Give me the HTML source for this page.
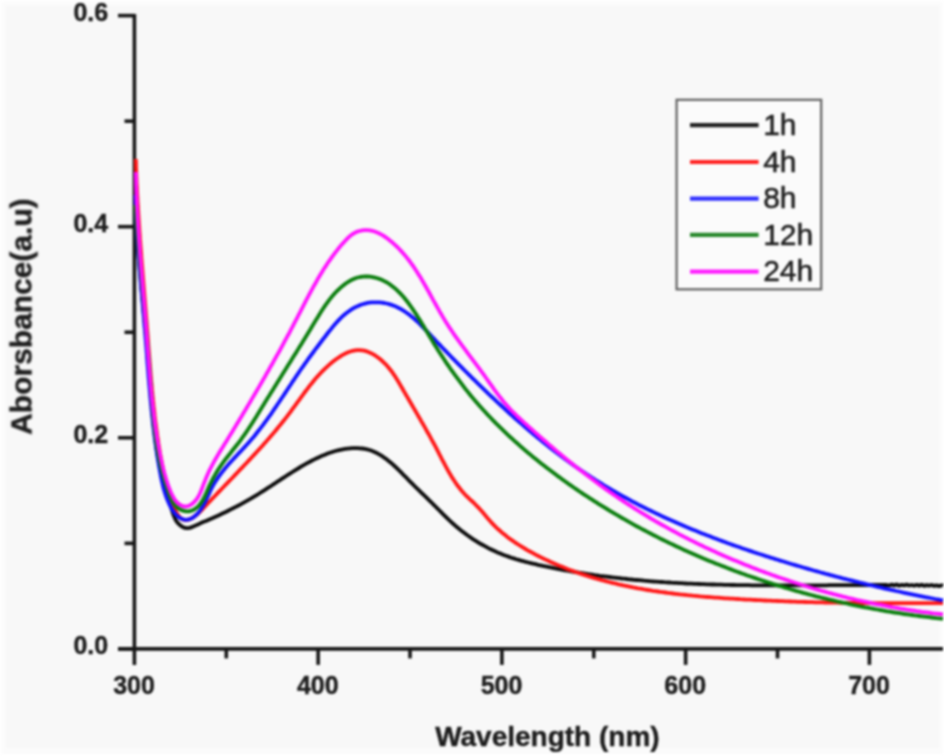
<!DOCTYPE html>
<html><head><meta charset="utf-8"><title>UV-Vis Absorbance</title>
<style>
html,body{margin:0;padding:0;background:#fff;}
body{width:944px;height:756px;overflow:hidden;font-family:"Liberation Sans",sans-serif;}
svg{display:block;}
.tk{font-family:"Liberation Sans",sans-serif;font-weight:bold;font-size:25px;fill:#1c1c1c;stroke:#1c1c1c;stroke-width:0.4;}
.ax{font-family:"Liberation Sans",sans-serif;font-weight:bold;font-size:28px;fill:#1c1c1c;stroke:#1c1c1c;stroke-width:0.4;}
.ay{font-family:"Liberation Sans",sans-serif;font-weight:bold;font-size:30px;fill:#1c1c1c;stroke:#1c1c1c;stroke-width:0.4;}
.lg{font-family:"Liberation Sans",sans-serif;font-size:30px;fill:#1e1e1e;stroke:#1e1e1e;stroke-width:0.5;}
</style></head><body>
<svg width="944" height="756" viewBox="0 0 944 756">
<defs><filter id="b" x="0" y="0" width="944" height="756" filterUnits="userSpaceOnUse" color-interpolation-filters="sRGB"><feGaussianBlur stdDeviation="0.8"/></filter><filter id="b2" x="0" y="0" width="944" height="756" filterUnits="userSpaceOnUse" color-interpolation-filters="sRGB"><feGaussianBlur stdDeviation="1.2"/></filter></defs>
<rect x="0" y="0" width="944" height="756" fill="#ffffff"/>
<g filter="url(#b2)"><rect x="1.5" y="1.5" width="941" height="752.5" fill="#fbfbfb"/><rect x="6.5" y="6" width="932" height="741.5" fill="#f8f8f8"/></g>
<g filter="url(#b)">
<g stroke="#161616" stroke-width="3.6" fill="none" stroke-linecap="butt">
<line x1="134.40" y1="14" x2="134.40" y2="664.90"/>
<line x1="118" y1="648.90" x2="943" y2="648.90"/>
<line x1="118" y1="648.90" x2="134.40" y2="648.90"/>
<line x1="124.5" y1="543.35" x2="134.40" y2="543.35"/>
<line x1="118" y1="437.80" x2="134.40" y2="437.80"/>
<line x1="124.5" y1="332.25" x2="134.40" y2="332.25"/>
<line x1="118" y1="226.70" x2="134.40" y2="226.70"/>
<line x1="124.5" y1="121.15" x2="134.40" y2="121.15"/>
<line x1="118" y1="15.60" x2="134.40" y2="15.60"/>
<line x1="226.28" y1="648.90" x2="226.28" y2="658.40"/>
<line x1="318.15" y1="648.90" x2="318.15" y2="664.90"/>
<line x1="410.02" y1="648.90" x2="410.02" y2="658.40"/>
<line x1="501.90" y1="648.90" x2="501.90" y2="664.90"/>
<line x1="593.77" y1="648.90" x2="593.77" y2="658.40"/>
<line x1="685.65" y1="648.90" x2="685.65" y2="664.90"/>
<line x1="777.52" y1="648.90" x2="777.52" y2="658.40"/>
<line x1="869.40" y1="648.90" x2="869.40" y2="664.90"/>
</g>
<path d="M136.2 226.0 L136.4 228.5 L136.6 231.0 L136.8 233.5 L137.0 236.0 L137.2 238.5 L137.4 241.0 L137.6 243.5 L137.8 246.0 L138.0 248.5 L138.2 251.0 L138.4 253.5 L138.6 256.0 L138.8 258.5 L139.0 261.0 L139.2 263.4 L139.5 265.9 L139.7 268.4 L139.9 270.9 L140.1 273.4 L140.4 275.9 L140.6 278.4 L140.8 280.9 L141.0 283.3 L141.3 285.8 L141.5 288.3 L141.7 290.8 L142.0 293.3 L142.2 295.8 L142.4 298.2 L142.7 300.7 L142.9 303.2 L143.1 305.7 L143.4 308.2 L143.6 310.7 L143.8 313.1 L144.1 315.6 L144.3 318.1 L144.5 320.6 L144.8 323.1 L145.0 325.6 L145.2 328.0 L145.5 330.5 L145.7 333.0 L145.9 335.5 L146.2 338.0 L146.4 340.5 L146.6 342.9 L146.8 345.4 L147.1 347.9 L147.3 350.4 L147.5 352.9 L147.7 355.4 L147.9 357.9 L148.2 360.4 L148.4 362.9 L148.6 365.4 L148.8 367.8 L149.0 370.3 L149.2 372.8 L149.4 375.3 L149.6 377.8 L149.8 380.3 L150.0 382.8 L150.2 385.3 L150.4 387.8 L150.6 390.3 L150.8 392.8 L151.0 395.3 L151.2 397.8 L151.4 400.3 L151.6 402.8 L151.8 405.4 L152.0 407.9 L152.2 410.4 L152.4 412.9 L152.7 415.3 L152.9 417.8 L153.1 420.3 L153.4 422.8 L153.6 425.3 L153.9 427.8 L154.2 430.3 L154.5 432.8 L154.8 435.3 L155.1 437.8 L155.4 440.2 L155.7 442.7 L156.1 445.2 L156.4 447.6 L156.8 450.1 L157.2 452.6 L157.6 455.0 L158.0 457.5 L158.4 459.9 L158.9 462.4 L159.4 464.8 L159.8 467.3 L160.4 469.7 L160.9 472.1 L161.4 474.5 L162.0 477.0 L162.6 479.4 L163.2 481.8 L163.8 484.2 L164.5 486.6 L165.2 488.9 L165.9 491.3 L166.6 493.7 L167.4 496.1 L168.1 498.5 L168.9 500.8 L169.7 503.2 L170.5 505.6 L171.2 508.0 L172.0 510.4 L172.8 512.9 L173.6 515.3 L174.6 517.6 L175.7 519.9 L177.0 522.0 L178.7 523.9 L180.6 525.6 L182.7 527.0 L184.9 527.9 L187.3 528.2 L189.6 527.9 L192.0 527.1 L194.4 526.1 L196.8 524.9 L199.1 523.9 L201.4 522.8 L203.7 521.8 L206.0 520.9 L208.2 519.9 L210.5 518.9 L212.8 517.9 L215.0 516.9 L217.3 515.9 L219.5 514.9 L221.8 513.8 L224.1 512.7 L226.3 511.7 L228.6 510.5 L230.8 509.4 L233.0 508.3 L235.3 507.1 L237.5 506.0 L239.7 504.8 L241.9 503.6 L244.1 502.4 L246.3 501.2 L248.5 499.9 L250.7 498.7 L252.8 497.4 L254.9 496.1 L257.1 494.8 L259.2 493.5 L261.3 492.2 L263.4 490.9 L265.4 489.6 L267.5 488.2 L269.6 486.9 L271.7 485.5 L273.7 484.1 L275.8 482.8 L277.8 481.4 L279.9 480.1 L282.0 478.7 L284.1 477.3 L286.1 476.0 L288.2 474.6 L290.3 473.3 L292.4 472.0 L294.6 470.6 L296.7 469.3 L298.9 468.0 L301.0 466.7 L303.2 465.4 L305.4 464.2 L307.6 462.9 L309.9 461.7 L312.1 460.5 L314.4 459.4 L316.7 458.3 L319.0 457.2 L321.3 456.1 L323.6 455.2 L326.0 454.2 L328.3 453.3 L330.7 452.5 L333.1 451.7 L335.4 451.0 L337.9 450.4 L340.3 449.8 L342.7 449.3 L345.1 448.9 L347.6 448.6 L350.0 448.3 L352.5 448.2 L355.0 448.1 L357.5 448.1 L359.9 448.3 L362.3 448.5 L364.8 448.9 L367.1 449.4 L369.5 450.0 L371.7 450.8 L374.0 451.7 L376.2 452.7 L378.3 453.9 L380.5 455.1 L382.6 456.4 L384.6 457.9 L386.6 459.3 L388.6 460.9 L390.6 462.5 L392.5 464.2 L394.5 466.0 L396.3 467.7 L398.2 469.5 L400.1 471.4 L401.9 473.2 L403.7 475.1 L405.6 476.9 L407.4 478.8 L409.1 480.6 L410.9 482.4 L412.7 484.2 L414.5 486.0 L416.2 487.7 L418.0 489.4 L419.8 491.1 L421.5 492.8 L423.3 494.5 L425.0 496.2 L426.8 497.9 L428.5 499.6 L430.3 501.3 L432.0 503.0 L433.8 504.8 L435.5 506.5 L437.3 508.3 L439.0 510.0 L440.8 511.8 L442.5 513.6 L444.3 515.3 L446.1 517.1 L447.9 518.9 L449.7 520.6 L451.6 522.3 L453.4 524.0 L455.3 525.7 L457.2 527.3 L459.2 528.9 L461.1 530.5 L463.1 532.0 L465.1 533.5 L467.1 535.0 L469.2 536.5 L471.2 537.9 L473.3 539.3 L475.4 540.6 L477.5 542.0 L479.7 543.3 L481.8 544.5 L484.0 545.7 L486.2 546.9 L488.4 548.1 L490.6 549.2 L492.9 550.3 L495.1 551.3 L497.4 552.4 L499.7 553.3 L502.0 554.3 L504.4 555.2 L506.7 556.0 L509.1 556.9 L511.4 557.7 L513.8 558.4 L516.2 559.2 L518.6 559.9 L521.0 560.6 L523.4 561.2 L525.8 561.9 L528.3 562.5 L530.7 563.1 L533.1 563.7 L535.6 564.2 L538.0 564.8 L540.5 565.3 L542.9 565.9 L545.4 566.4 L547.8 566.9 L550.3 567.4 L552.7 567.9 L555.2 568.4 L557.6 568.9 L560.1 569.4 L562.6 569.8 L565.0 570.3 L567.5 570.7 L569.9 571.2 L572.4 571.6 L574.9 572.0 L577.3 572.4 L579.8 572.8 L582.3 573.2 L584.7 573.6 L587.2 574.0 L589.7 574.3 L592.1 574.7 L594.6 575.1 L597.1 575.4 L599.5 575.8 L602.0 576.1 L604.5 576.4 L607.0 576.7 L609.4 577.0 L611.9 577.3 L614.4 577.6 L616.9 577.9 L619.3 578.2 L621.8 578.5 L624.3 578.7 L626.8 579.0 L629.3 579.3 L631.7 579.5 L634.2 579.8 L636.7 580.0 L639.2 580.2 L641.7 580.4 L644.2 580.7 L646.6 580.9 L649.1 581.1 L651.6 581.3 L654.1 581.5 L656.6 581.6 L659.1 581.8 L661.6 582.0 L664.1 582.2 L666.6 582.3 L669.1 582.5 L671.5 582.7 L674.0 582.8 L676.5 582.9 L679.0 583.1 L681.5 583.2 L684.0 583.3 L686.5 583.5 L689.0 583.6 L691.5 583.7 L694.0 583.8 L696.5 583.9 L699.0 584.0 L701.5 584.1 L704.0 584.2 L706.5 584.3 L709.0 584.4 L711.5 584.5 L714.0 584.5 L716.5 584.6 L719.0 584.7 L721.5 584.7 L724.0 584.8 L726.5 584.9 L729.0 584.9 L731.5 585.0 L734.0 585.0 L736.5 585.1 L739.0 585.1 L741.5 585.1 L744.0 585.2 L746.5 585.2 L749.0 585.2 L751.5 585.3 L754.0 585.3 L756.5 585.3 L759.0 585.3 L761.5 585.4 L764.0 585.4 L766.5 585.4 L769.0 585.4 L771.5 585.4 L774.1 585.4 L776.6 585.4 L779.1 585.4 L781.6 585.4 L784.1 585.4 L786.6 585.4 L789.1 585.4 L791.6 585.4 L794.1 585.4 L796.6 585.4 L799.1 585.4 L801.6 585.4 L804.1 585.4 L806.6 585.4 L809.1 585.4 L811.6 585.3 L814.1 585.3 L816.6 585.3 L819.2 585.3 L821.7 585.3 L824.2 585.3 L826.7 585.3 L829.2 585.2 L831.7 585.2 L834.2 585.2 L836.7 585.2 L839.2 585.2 L841.7 585.2 L844.2 585.2 L846.7 585.1 L849.2 585.1 L851.7 585.1 L854.2 585.1 L856.7 585.1 L859.2 585.1 L861.7 585.1 L864.2 585.1 L866.7 585.0 L869.2 585.0 L871.7 585.0 L874.2 585.0 L876.7 585.0 L879.2 585.0 L881.7 585.0 L884.2 585.0 L886.7 585.0 L889.2 585.5 L891.7 584.6 L894.2 585.4 L896.7 584.5 L899.2 585.7 L901.7 584.8 L904.2 585.3 L906.7 584.6 L909.2 585.5 L911.7 585.0 L914.2 585.7 L916.7 584.8 L919.2 585.6 L921.7 584.7 L924.1 585.9 L926.6 585.1 L929.1 585.6 L931.6 585.0 L934.1 585.9 L936.6 585.4 L939.1 586.1 L941.6 585.3 L943.0 586.0" fill="none" stroke="#0a0a0a" stroke-width="3.8" stroke-linejoin="round" stroke-linecap="butt"/>
<path d="M135.8 159.0 L135.9 161.5 L136.0 164.0 L136.0 166.5 L136.1 169.0 L136.2 171.6 L136.3 174.1 L136.4 176.6 L136.5 179.1 L136.6 181.6 L136.7 184.1 L136.9 186.6 L137.0 189.1 L137.1 191.6 L137.2 194.1 L137.4 196.6 L137.5 199.1 L137.6 201.6 L137.8 204.1 L137.9 206.5 L138.1 209.0 L138.2 211.5 L138.4 214.0 L138.5 216.5 L138.7 219.0 L138.8 221.5 L139.0 224.0 L139.2 226.5 L139.3 229.0 L139.5 231.4 L139.7 233.9 L139.9 236.4 L140.0 238.9 L140.2 241.4 L140.4 243.9 L140.6 246.4 L140.8 248.8 L141.0 251.3 L141.2 253.8 L141.3 256.3 L141.5 258.8 L141.7 261.3 L141.9 263.8 L142.1 266.2 L142.3 268.7 L142.5 271.2 L142.7 273.7 L142.9 276.2 L143.1 278.7 L143.3 281.1 L143.5 283.6 L143.7 286.1 L143.9 288.6 L144.1 291.1 L144.3 293.6 L144.5 296.1 L144.7 298.6 L144.9 301.0 L145.1 303.5 L145.3 306.0 L145.5 308.5 L145.7 311.0 L145.9 313.5 L146.1 316.0 L146.3 318.5 L146.5 321.0 L146.7 323.5 L146.9 326.0 L147.1 328.5 L147.3 331.0 L147.5 333.5 L147.7 336.0 L147.9 338.5 L148.1 341.0 L148.2 343.5 L148.4 346.0 L148.6 348.5 L148.8 351.0 L149.0 353.5 L149.2 356.0 L149.4 358.5 L149.6 361.0 L149.8 363.5 L150.0 366.0 L150.2 368.5 L150.4 371.0 L150.6 373.5 L150.8 376.0 L151.0 378.5 L151.2 381.0 L151.5 383.5 L151.7 386.0 L151.9 388.5 L152.1 391.0 L152.4 393.5 L152.6 396.0 L152.9 398.5 L153.1 401.0 L153.4 403.5 L153.6 406.0 L153.9 408.5 L154.2 411.0 L154.5 413.5 L154.7 416.0 L155.0 418.5 L155.3 420.9 L155.6 423.4 L156.0 425.9 L156.3 428.4 L156.6 430.9 L157.0 433.3 L157.3 435.8 L157.7 438.3 L158.1 440.7 L158.4 443.2 L158.8 445.6 L159.2 448.1 L159.6 450.6 L160.0 453.0 L160.5 455.5 L160.9 457.9 L161.4 460.3 L161.8 462.8 L162.3 465.2 L162.8 467.7 L163.3 470.1 L163.8 472.5 L164.3 474.9 L164.9 477.3 L165.4 479.8 L166.0 482.2 L166.6 484.6 L167.2 487.0 L167.8 489.4 L168.5 491.8 L169.2 494.2 L170.0 496.6 L170.8 498.9 L171.6 501.3 L172.6 503.7 L173.5 506.1 L174.5 508.5 L175.6 510.9 L176.8 513.2 L178.2 515.3 L179.7 517.2 L181.5 518.7 L183.6 519.7 L185.9 520.0 L188.3 519.7 L190.7 518.8 L192.9 517.5 L195.0 516.1 L197.0 514.5 L198.8 512.8 L200.6 511.1 L202.4 509.3 L204.1 507.5 L205.8 505.6 L207.5 503.8 L209.2 502.0 L210.9 500.2 L212.6 498.3 L214.4 496.5 L216.1 494.7 L217.8 492.9 L219.5 491.1 L221.3 489.3 L223.0 487.5 L224.7 485.7 L226.5 483.9 L228.2 482.1 L229.9 480.3 L231.7 478.5 L233.4 476.7 L235.1 474.9 L236.9 473.1 L238.6 471.2 L240.3 469.4 L242.1 467.6 L243.8 465.8 L245.5 464.0 L247.2 462.2 L248.9 460.4 L250.6 458.6 L252.3 456.7 L254.0 454.9 L255.7 453.1 L257.4 451.2 L259.1 449.4 L260.8 447.5 L262.5 445.7 L264.1 443.8 L265.8 442.0 L267.4 440.1 L269.1 438.2 L270.7 436.3 L272.3 434.5 L273.9 432.6 L275.5 430.7 L277.1 428.7 L278.7 426.8 L280.3 424.9 L281.8 423.0 L283.4 421.0 L284.9 419.1 L286.5 417.1 L288.0 415.1 L289.5 413.1 L291.0 411.2 L292.4 409.2 L293.9 407.1 L295.4 405.1 L296.8 403.1 L298.3 401.1 L299.8 399.1 L301.2 397.1 L302.7 395.1 L304.2 393.0 L305.7 391.0 L307.2 389.1 L308.7 387.1 L310.2 385.1 L311.8 383.2 L313.4 381.2 L315.0 379.3 L316.6 377.4 L318.3 375.6 L320.0 373.7 L321.7 371.9 L323.5 370.1 L325.3 368.3 L327.2 366.6 L329.1 364.9 L331.0 363.2 L333.0 361.6 L335.1 360.0 L337.1 358.5 L339.3 357.1 L341.4 355.7 L343.7 354.4 L345.9 353.3 L348.1 352.3 L350.4 351.5 L352.7 350.8 L355.0 350.4 L357.3 350.1 L359.7 350.1 L362.0 350.3 L364.3 350.7 L366.6 351.3 L368.8 352.2 L371.1 353.2 L373.3 354.4 L375.5 355.7 L377.6 357.2 L379.7 358.8 L381.7 360.5 L383.6 362.3 L385.5 364.1 L387.2 366.0 L388.9 368.0 L390.5 370.0 L392.1 372.0 L393.5 374.1 L394.9 376.1 L396.2 378.2 L397.5 380.3 L398.8 382.4 L400.0 384.6 L401.3 386.7 L402.5 388.8 L403.7 391.0 L405.0 393.1 L406.2 395.2 L407.5 397.4 L408.7 399.5 L410.0 401.7 L411.2 403.8 L412.5 406.0 L413.7 408.1 L415.0 410.3 L416.2 412.4 L417.5 414.6 L418.7 416.7 L420.0 418.9 L421.2 421.1 L422.5 423.3 L423.7 425.4 L425.0 427.6 L426.2 429.8 L427.4 432.0 L428.7 434.2 L429.9 436.4 L431.1 438.6 L432.3 440.8 L433.5 443.0 L434.7 445.2 L435.9 447.4 L437.0 449.6 L438.2 451.9 L439.3 454.1 L440.5 456.3 L441.6 458.6 L442.8 460.8 L444.0 463.0 L445.1 465.2 L446.3 467.4 L447.5 469.6 L448.7 471.8 L450.0 473.9 L451.2 476.0 L452.5 478.2 L453.9 480.2 L455.3 482.3 L456.7 484.3 L458.1 486.3 L459.7 488.3 L461.2 490.2 L462.8 492.1 L464.5 494.0 L466.3 495.8 L468.1 497.5 L469.9 499.3 L471.8 501.0 L473.6 502.7 L475.4 504.5 L477.2 506.3 L479.0 508.1 L480.6 510.0 L482.3 511.8 L483.9 513.7 L485.5 515.6 L487.0 517.5 L488.7 519.4 L490.3 521.3 L492.0 523.1 L493.7 524.9 L495.4 526.6 L497.2 528.3 L499.1 530.0 L500.9 531.6 L502.8 533.3 L504.8 534.8 L506.7 536.4 L508.7 537.9 L510.7 539.4 L512.8 540.8 L514.8 542.3 L516.9 543.7 L519.0 545.0 L521.2 546.4 L523.3 547.7 L525.5 549.0 L527.7 550.3 L529.9 551.5 L532.1 552.7 L534.3 553.9 L536.5 555.1 L538.8 556.3 L541.0 557.4 L543.3 558.5 L545.6 559.6 L547.8 560.6 L550.1 561.7 L552.4 562.7 L554.7 563.7 L557.0 564.7 L559.3 565.7 L561.6 566.6 L563.9 567.6 L566.2 568.5 L568.5 569.4 L570.9 570.3 L573.2 571.1 L575.6 572.0 L577.9 572.8 L580.3 573.6 L582.6 574.4 L585.0 575.1 L587.4 575.9 L589.7 576.6 L592.1 577.4 L594.5 578.1 L596.9 578.8 L599.3 579.4 L601.7 580.1 L604.1 580.7 L606.5 581.4 L608.9 582.0 L611.3 582.6 L613.7 583.2 L616.1 583.7 L618.5 584.3 L621.0 584.8 L623.4 585.4 L625.8 585.9 L628.3 586.4 L630.7 586.9 L633.2 587.4 L635.6 587.8 L638.1 588.3 L640.5 588.7 L643.0 589.2 L645.4 589.6 L647.9 590.0 L650.4 590.4 L652.8 590.8 L655.3 591.1 L657.8 591.5 L660.3 591.9 L662.7 592.2 L665.2 592.5 L667.7 592.9 L670.2 593.2 L672.7 593.5 L675.2 593.8 L677.7 594.1 L680.1 594.4 L682.6 594.6 L685.1 594.9 L687.6 595.2 L690.1 595.4 L692.6 595.7 L695.1 595.9 L697.6 596.1 L700.1 596.4 L702.6 596.6 L705.1 596.8 L707.6 597.0 L710.1 597.2 L712.6 597.4 L715.1 597.6 L717.7 597.7 L720.2 597.9 L722.7 598.1 L725.2 598.3 L727.7 598.4 L730.2 598.6 L732.7 598.7 L735.2 598.9 L737.7 599.0 L740.2 599.2 L742.7 599.3 L745.2 599.5 L747.7 599.6 L750.2 599.7 L752.7 599.9 L755.2 600.0 L757.7 600.1 L760.2 600.2 L762.7 600.4 L765.2 600.5 L767.7 600.6 L770.2 600.7 L772.7 600.8 L775.2 600.9 L777.7 601.0 L780.2 601.1 L782.7 601.2 L785.2 601.3 L787.6 601.4 L790.1 601.5 L792.6 601.6 L795.1 601.7 L797.6 601.8 L800.1 601.8 L802.6 601.9 L805.1 602.0 L807.6 602.1 L810.1 602.1 L812.6 602.2 L815.1 602.3 L817.6 602.3 L820.1 602.4 L822.6 602.4 L825.0 602.5 L827.5 602.6 L830.0 602.6 L832.5 602.7 L835.0 602.7 L837.5 602.7 L840.0 602.8 L842.5 602.8 L845.0 602.9 L847.5 602.9 L850.0 602.9 L852.5 603.0 L855.0 603.0 L857.4 603.0 L859.9 603.1 L862.4 603.1 L864.9 603.1 L867.4 603.1 L869.9 603.1 L872.4 603.2 L874.9 603.2 L877.4 603.2 L879.9 603.2 L882.4 603.2 L884.9 603.2 L887.4 603.2 L889.9 603.2 L892.4 603.2 L894.9 603.2 L897.4 603.2 L899.9 603.2 L902.4 603.2 L904.9 603.2 L907.4 603.2 L909.9 603.2 L912.4 603.2 L914.9 603.2 L917.4 603.2 L919.9 603.2 L922.4 603.2 L924.9 603.1 L927.4 603.1 L929.9 603.1 L932.5 603.1 L935.0 603.1 L937.5 603.0 L940.0 603.0 L942.5 603.0 L943.0 603.0" fill="none" stroke="#ff1414" stroke-width="3.8" stroke-linejoin="round" stroke-linecap="butt"/>
<path d="M135.6 195.0 L135.6 197.5 L135.7 200.0 L135.7 202.5 L135.8 205.0 L135.9 207.5 L135.9 210.0 L136.0 212.5 L136.1 215.0 L136.2 217.5 L136.3 220.0 L136.4 222.5 L136.6 225.0 L136.7 227.5 L136.8 230.0 L137.0 232.5 L137.1 235.0 L137.2 237.5 L137.4 240.0 L137.6 242.5 L137.7 245.0 L137.9 247.5 L138.1 250.0 L138.3 252.5 L138.4 254.9 L138.6 257.4 L138.8 259.9 L139.0 262.4 L139.2 264.9 L139.4 267.4 L139.6 269.9 L139.8 272.4 L140.0 274.8 L140.3 277.3 L140.5 279.8 L140.7 282.3 L140.9 284.8 L141.1 287.3 L141.3 289.8 L141.6 292.2 L141.8 294.7 L142.0 297.2 L142.2 299.7 L142.5 302.2 L142.7 304.7 L142.9 307.2 L143.1 309.7 L143.3 312.1 L143.6 314.6 L143.8 317.1 L144.0 319.6 L144.2 322.1 L144.4 324.6 L144.6 327.1 L144.9 329.6 L145.1 332.1 L145.3 334.6 L145.5 337.1 L145.7 339.6 L145.9 342.1 L146.1 344.6 L146.3 347.1 L146.5 349.6 L146.7 352.1 L146.9 354.6 L147.0 357.1 L147.2 359.6 L147.4 362.1 L147.6 364.6 L147.8 367.0 L148.0 369.5 L148.2 372.0 L148.4 374.5 L148.6 377.0 L148.8 379.5 L149.0 382.0 L149.2 384.5 L149.5 387.0 L149.7 389.5 L149.9 392.0 L150.1 394.5 L150.3 397.0 L150.6 399.5 L150.8 402.0 L151.0 404.5 L151.3 407.0 L151.5 409.5 L151.8 412.0 L152.0 414.4 L152.3 416.9 L152.6 419.4 L152.8 421.9 L153.1 424.4 L153.4 426.8 L153.7 429.3 L154.0 431.8 L154.3 434.3 L154.6 436.7 L154.9 439.2 L155.3 441.7 L155.6 444.1 L155.9 446.6 L156.3 449.1 L156.7 451.5 L157.0 454.0 L157.4 456.4 L157.8 458.9 L158.2 461.3 L158.6 463.8 L159.0 466.2 L159.5 468.7 L159.9 471.1 L160.4 473.5 L160.8 476.0 L161.3 478.4 L161.8 480.8 L162.4 483.2 L162.9 485.6 L163.5 488.0 L164.2 490.4 L164.9 492.8 L165.7 495.2 L166.5 497.6 L167.4 499.9 L168.4 502.3 L169.5 504.6 L170.7 506.9 L172.0 509.2 L173.4 511.4 L175.0 513.5 L176.8 515.4 L178.7 517.1 L180.9 518.4 L183.2 519.3 L185.5 519.8 L187.8 519.7 L190.0 519.1 L192.1 518.1 L194.1 516.7 L196.1 515.1 L197.9 513.2 L199.6 511.1 L201.1 509.0 L202.5 506.8 L203.8 504.6 L205.0 502.3 L206.1 500.1 L207.2 497.8 L208.3 495.5 L209.3 493.2 L210.3 490.9 L211.4 488.7 L212.5 486.5 L213.7 484.4 L215.0 482.2 L216.3 480.2 L217.7 478.1 L219.1 476.1 L220.6 474.1 L222.1 472.1 L223.6 470.2 L225.2 468.3 L226.8 466.4 L228.4 464.5 L230.1 462.6 L231.8 460.8 L233.5 458.9 L235.2 457.1 L236.9 455.3 L238.6 453.4 L240.4 451.6 L242.1 449.8 L243.8 447.9 L245.5 446.1 L247.2 444.2 L248.9 442.4 L250.5 440.5 L252.2 438.6 L253.8 436.7 L255.4 434.7 L256.9 432.8 L258.5 430.8 L260.0 428.9 L261.5 426.9 L263.1 424.9 L264.5 422.9 L266.0 420.9 L267.5 418.9 L268.9 416.8 L270.4 414.8 L271.8 412.8 L273.2 410.7 L274.6 408.6 L276.0 406.6 L277.4 404.5 L278.8 402.5 L280.2 400.4 L281.6 398.3 L283.0 396.2 L284.4 394.1 L285.7 392.1 L287.1 390.0 L288.5 387.9 L289.9 385.8 L291.3 383.7 L292.6 381.6 L294.0 379.6 L295.4 377.5 L296.8 375.4 L298.2 373.4 L299.6 371.3 L301.0 369.2 L302.5 367.2 L303.9 365.1 L305.3 363.1 L306.8 361.1 L308.2 359.0 L309.7 357.0 L311.2 355.0 L312.7 353.0 L314.2 351.0 L315.6 349.0 L317.2 347.0 L318.7 345.0 L320.2 343.0 L321.7 341.0 L323.2 339.0 L324.8 337.0 L326.3 335.0 L327.8 333.0 L329.4 331.0 L331.0 329.1 L332.5 327.1 L334.1 325.2 L335.8 323.3 L337.5 321.4 L339.2 319.6 L340.9 317.9 L342.7 316.2 L344.6 314.5 L346.5 313.0 L348.5 311.5 L350.5 310.1 L352.6 308.7 L354.8 307.5 L357.0 306.4 L359.3 305.4 L361.7 304.5 L364.1 303.8 L366.6 303.2 L369.1 302.7 L371.6 302.4 L374.2 302.3 L376.7 302.3 L379.3 302.4 L381.8 302.6 L384.3 303.0 L386.7 303.5 L389.1 304.1 L391.5 304.9 L393.8 305.7 L396.0 306.6 L398.2 307.7 L400.4 308.8 L402.5 310.0 L404.5 311.3 L406.5 312.7 L408.5 314.1 L410.5 315.7 L412.4 317.2 L414.3 318.8 L416.1 320.5 L418.0 322.2 L419.8 324.0 L421.6 325.8 L423.4 327.6 L425.1 329.4 L426.9 331.2 L428.6 333.1 L430.4 334.9 L432.1 336.8 L433.9 338.6 L435.6 340.5 L437.3 342.3 L439.1 344.1 L440.8 345.9 L442.5 347.8 L444.3 349.6 L446.0 351.4 L447.7 353.2 L449.5 355.0 L451.2 356.8 L453.0 358.6 L454.7 360.3 L456.4 362.1 L458.2 363.9 L459.9 365.7 L461.7 367.4 L463.4 369.2 L465.2 371.0 L466.9 372.7 L468.7 374.5 L470.5 376.2 L472.2 378.0 L474.0 379.7 L475.8 381.4 L477.5 383.2 L479.3 384.9 L481.1 386.7 L482.9 388.4 L484.7 390.1 L486.5 391.8 L488.3 393.6 L490.1 395.3 L491.9 397.0 L493.7 398.7 L495.5 400.4 L497.3 402.1 L499.2 403.8 L501.0 405.5 L502.8 407.2 L504.7 408.9 L506.5 410.6 L508.4 412.3 L510.2 414.0 L512.1 415.6 L513.9 417.3 L515.8 419.0 L517.7 420.6 L519.6 422.3 L521.5 423.9 L523.4 425.6 L525.3 427.2 L527.2 428.8 L529.1 430.5 L531.0 432.1 L532.9 433.7 L534.8 435.3 L536.7 436.9 L538.7 438.5 L540.6 440.1 L542.6 441.7 L544.5 443.2 L546.5 444.8 L548.4 446.4 L550.4 447.9 L552.4 449.5 L554.3 451.0 L556.3 452.5 L558.3 454.0 L560.3 455.5 L562.3 457.0 L564.3 458.5 L566.3 460.0 L568.4 461.5 L570.4 463.0 L572.4 464.4 L574.5 465.9 L576.5 467.3 L578.6 468.7 L580.6 470.1 L582.7 471.5 L584.7 472.9 L586.8 474.3 L588.9 475.7 L591.0 477.1 L593.1 478.4 L595.2 479.8 L597.3 481.1 L599.4 482.4 L601.5 483.7 L603.6 485.1 L605.8 486.3 L607.9 487.6 L610.1 488.9 L612.2 490.2 L614.4 491.4 L616.5 492.7 L618.7 493.9 L620.9 495.1 L623.0 496.3 L625.2 497.5 L627.4 498.7 L629.6 499.9 L631.8 501.1 L634.0 502.3 L636.2 503.4 L638.4 504.6 L640.6 505.7 L642.9 506.9 L645.1 508.0 L647.3 509.1 L649.6 510.2 L651.8 511.3 L654.0 512.4 L656.3 513.5 L658.6 514.5 L660.8 515.6 L663.1 516.7 L665.3 517.7 L667.6 518.7 L669.9 519.8 L672.2 520.8 L674.5 521.8 L676.7 522.8 L679.0 523.8 L681.3 524.8 L683.6 525.8 L685.9 526.8 L688.2 527.7 L690.5 528.7 L692.9 529.7 L695.2 530.6 L697.5 531.5 L699.8 532.5 L702.1 533.4 L704.5 534.3 L706.8 535.2 L709.1 536.1 L711.5 537.0 L713.8 537.9 L716.2 538.8 L718.5 539.7 L720.8 540.6 L723.2 541.4 L725.5 542.3 L727.9 543.2 L730.3 544.0 L732.6 544.9 L735.0 545.7 L737.3 546.5 L739.7 547.3 L742.1 548.2 L744.4 549.0 L746.8 549.8 L749.2 550.6 L751.6 551.4 L753.9 552.2 L756.3 553.0 L758.7 553.8 L761.1 554.5 L763.5 555.3 L765.9 556.1 L768.2 556.8 L770.6 557.6 L773.0 558.3 L775.4 559.1 L777.8 559.8 L780.2 560.6 L782.6 561.3 L785.0 562.0 L787.4 562.8 L789.7 563.5 L792.1 564.2 L794.5 564.9 L796.9 565.6 L799.3 566.3 L801.7 567.0 L804.1 567.7 L806.5 568.4 L808.9 569.1 L811.3 569.8 L813.7 570.5 L816.1 571.1 L818.5 571.8 L820.9 572.5 L823.3 573.1 L825.7 573.8 L828.2 574.4 L830.6 575.1 L833.0 575.7 L835.4 576.4 L837.8 577.0 L840.2 577.6 L842.6 578.3 L845.0 578.9 L847.5 579.5 L849.9 580.1 L852.3 580.7 L854.7 581.3 L857.1 581.9 L859.6 582.5 L862.0 583.1 L864.4 583.7 L866.8 584.3 L869.3 584.9 L871.7 585.4 L874.1 586.0 L876.5 586.6 L879.0 587.2 L881.4 587.7 L883.8 588.3 L886.3 588.8 L888.7 589.4 L891.1 589.9 L893.6 590.4 L896.0 591.0 L898.5 591.5 L900.9 592.0 L903.4 592.6 L905.8 593.1 L908.3 593.6 L910.7 594.1 L913.2 594.6 L915.6 595.1 L918.1 595.6 L920.5 596.1 L923.0 596.6 L925.4 597.1 L927.9 597.5 L930.3 598.0 L932.8 598.5 L935.3 599.0 L937.7 599.4 L940.2 599.9 L942.7 600.3 L943.0 600.4" fill="none" stroke="#1010ff" stroke-width="3.8" stroke-linejoin="round" stroke-linecap="butt"/>
<path d="M135.6 205.0 L135.7 207.5 L135.9 209.9 L136.1 212.4 L136.2 214.9 L136.4 217.4 L136.5 219.8 L136.7 222.3 L136.9 224.8 L137.1 227.3 L137.3 229.8 L137.4 232.2 L137.6 234.7 L137.8 237.2 L138.0 239.7 L138.2 242.2 L138.4 244.7 L138.6 247.2 L138.8 249.7 L139.1 252.2 L139.3 254.7 L139.5 257.2 L139.7 259.7 L139.9 262.2 L140.2 264.7 L140.4 267.2 L140.6 269.7 L140.8 272.2 L141.1 274.7 L141.3 277.2 L141.5 279.7 L141.8 282.2 L142.0 284.7 L142.2 287.2 L142.5 289.7 L142.7 292.2 L142.9 294.7 L143.2 297.2 L143.4 299.7 L143.6 302.3 L143.9 304.8 L144.1 307.3 L144.4 309.8 L144.6 312.3 L144.8 314.8 L145.1 317.3 L145.3 319.8 L145.5 322.3 L145.8 324.8 L146.0 327.3 L146.2 329.8 L146.5 332.3 L146.7 334.8 L146.9 337.3 L147.1 339.8 L147.4 342.3 L147.6 344.8 L147.8 347.3 L148.0 349.8 L148.2 352.3 L148.4 354.8 L148.6 357.3 L148.9 359.7 L149.1 362.2 L149.3 364.7 L149.5 367.2 L149.7 369.7 L149.8 372.2 L150.0 374.6 L150.2 377.1 L150.4 379.6 L150.6 382.1 L150.8 384.5 L150.9 387.0 L151.1 389.5 L151.3 391.9 L151.5 394.4 L151.6 396.9 L151.8 399.3 L152.0 401.8 L152.2 404.2 L152.4 406.7 L152.6 409.2 L152.8 411.6 L153.0 414.1 L153.2 416.5 L153.4 419.0 L153.7 421.4 L153.9 423.9 L154.2 426.3 L154.5 428.8 L154.8 431.2 L155.1 433.7 L155.4 436.1 L155.7 438.6 L156.1 441.0 L156.4 443.5 L156.8 445.9 L157.2 448.4 L157.7 450.8 L158.1 453.3 L158.6 455.7 L159.0 458.2 L159.6 460.6 L160.1 463.1 L160.6 465.6 L161.2 468.0 L161.8 470.5 L162.5 472.9 L163.1 475.4 L163.8 477.8 L164.6 480.3 L165.3 482.8 L166.1 485.2 L166.9 487.7 L167.8 490.2 L168.6 492.6 L169.6 495.1 L170.6 497.5 L171.7 499.8 L172.9 502.0 L174.2 504.1 L175.7 505.9 L177.5 507.6 L179.4 509.0 L181.5 510.1 L183.8 510.9 L186.3 511.3 L188.7 511.3 L191.1 510.8 L193.4 509.9 L195.5 508.6 L197.5 507.1 L199.2 505.3 L200.8 503.3 L202.2 501.1 L203.5 498.8 L204.7 496.4 L205.9 493.9 L206.9 491.5 L208.0 489.0 L209.0 486.6 L210.1 484.3 L211.2 482.1 L212.3 479.9 L213.4 477.7 L214.6 475.6 L215.8 473.6 L217.0 471.5 L218.2 469.5 L219.5 467.6 L220.9 465.6 L222.3 463.6 L223.7 461.7 L225.2 459.7 L226.7 457.7 L228.3 455.7 L229.9 453.8 L231.4 451.8 L233.0 449.8 L234.6 447.8 L236.2 445.8 L237.8 443.8 L239.3 441.8 L240.8 439.8 L242.3 437.7 L243.8 435.7 L245.2 433.6 L246.6 431.6 L248.0 429.5 L249.4 427.4 L250.8 425.3 L252.1 423.2 L253.5 421.1 L254.8 419.0 L256.1 416.9 L257.4 414.8 L258.7 412.7 L260.0 410.5 L261.3 408.4 L262.6 406.3 L263.9 404.2 L265.2 402.1 L266.5 400.0 L267.8 397.8 L269.2 395.7 L270.5 393.6 L271.8 391.5 L273.1 389.4 L274.4 387.3 L275.7 385.2 L277.0 383.0 L278.4 380.9 L279.7 378.8 L281.0 376.7 L282.3 374.6 L283.6 372.5 L285.0 370.3 L286.3 368.2 L287.6 366.1 L288.9 364.0 L290.3 361.9 L291.6 359.7 L292.9 357.6 L294.2 355.5 L295.6 353.4 L296.9 351.3 L298.2 349.1 L299.5 347.0 L300.8 344.9 L302.2 342.7 L303.5 340.6 L304.8 338.5 L306.1 336.3 L307.4 334.2 L308.7 332.0 L310.0 329.9 L311.3 327.7 L312.6 325.6 L313.9 323.4 L315.2 321.3 L316.5 319.1 L317.9 317.0 L319.2 314.8 L320.5 312.7 L321.8 310.6 L323.2 308.5 L324.6 306.4 L326.0 304.4 L327.5 302.4 L328.9 300.4 L330.5 298.4 L332.0 296.5 L333.6 294.6 L335.3 292.8 L337.0 291.0 L338.8 289.3 L340.6 287.6 L342.5 286.0 L344.5 284.4 L346.5 283.0 L348.6 281.6 L350.8 280.3 L353.1 279.2 L355.4 278.2 L357.8 277.5 L360.2 277.0 L362.7 276.6 L365.2 276.5 L367.7 276.5 L370.2 276.7 L372.7 277.1 L375.1 277.6 L377.5 278.3 L379.9 279.1 L382.1 280.0 L384.3 281.1 L386.5 282.2 L388.6 283.5 L390.6 284.9 L392.6 286.4 L394.5 287.9 L396.4 289.6 L398.2 291.3 L400.0 293.1 L401.7 294.9 L403.4 296.8 L405.0 298.8 L406.6 300.8 L408.2 302.8 L409.7 304.9 L411.2 307.0 L412.7 309.1 L414.1 311.2 L415.5 313.3 L416.9 315.4 L418.2 317.5 L419.6 319.6 L420.9 321.8 L422.2 323.9 L423.5 326.0 L424.7 328.2 L426.0 330.3 L427.3 332.4 L428.5 334.6 L429.8 336.7 L431.1 338.8 L432.4 340.9 L433.6 343.0 L434.9 345.2 L436.3 347.3 L437.6 349.4 L438.9 351.5 L440.3 353.6 L441.6 355.7 L443.0 357.7 L444.4 359.8 L445.7 361.9 L447.1 364.0 L448.6 366.0 L450.0 368.1 L451.4 370.1 L452.9 372.2 L454.3 374.2 L455.8 376.2 L457.3 378.2 L458.8 380.2 L460.3 382.2 L461.8 384.2 L463.3 386.2 L464.8 388.2 L466.4 390.1 L468.0 392.1 L469.5 394.0 L471.1 396.0 L472.7 397.9 L474.3 399.8 L476.0 401.7 L477.6 403.6 L479.2 405.4 L480.9 407.3 L482.6 409.2 L484.3 411.0 L485.9 412.8 L487.6 414.7 L489.4 416.5 L491.1 418.3 L492.8 420.1 L494.6 421.9 L496.3 423.7 L498.1 425.4 L499.9 427.2 L501.7 428.9 L503.5 430.7 L505.3 432.4 L507.1 434.1 L508.9 435.8 L510.7 437.5 L512.6 439.2 L514.4 440.9 L516.3 442.5 L518.2 444.2 L520.0 445.9 L521.9 447.5 L523.8 449.1 L525.7 450.8 L527.6 452.4 L529.6 454.0 L531.5 455.6 L533.4 457.2 L535.4 458.8 L537.3 460.3 L539.3 461.9 L541.2 463.5 L543.2 465.0 L545.2 466.5 L547.1 468.1 L549.1 469.6 L551.1 471.1 L553.1 472.6 L555.1 474.1 L557.1 475.6 L559.2 477.1 L561.2 478.6 L563.2 480.0 L565.2 481.5 L567.3 482.9 L569.3 484.4 L571.4 485.8 L573.4 487.2 L575.5 488.7 L577.6 490.1 L579.6 491.5 L581.7 492.9 L583.8 494.3 L585.9 495.6 L588.0 497.0 L590.0 498.4 L592.1 499.7 L594.2 501.1 L596.4 502.4 L598.5 503.8 L600.6 505.1 L602.7 506.4 L604.8 507.7 L607.0 509.0 L609.1 510.3 L611.2 511.6 L613.4 512.9 L615.5 514.2 L617.7 515.4 L619.8 516.7 L622.0 518.0 L624.2 519.2 L626.3 520.4 L628.5 521.7 L630.7 522.9 L632.9 524.1 L635.0 525.3 L637.2 526.5 L639.4 527.7 L641.6 528.9 L643.8 530.0 L646.0 531.2 L648.3 532.4 L650.5 533.5 L652.7 534.7 L654.9 535.8 L657.1 536.9 L659.4 538.1 L661.6 539.2 L663.8 540.3 L666.1 541.4 L668.3 542.5 L670.6 543.6 L672.8 544.6 L675.1 545.7 L677.3 546.8 L679.6 547.8 L681.9 548.9 L684.1 549.9 L686.4 550.9 L688.7 552.0 L691.0 553.0 L693.3 554.0 L695.6 555.0 L697.8 556.0 L700.1 557.0 L702.4 558.0 L704.7 558.9 L707.0 559.9 L709.4 560.9 L711.7 561.8 L714.0 562.7 L716.3 563.7 L718.6 564.6 L720.9 565.5 L723.3 566.4 L725.6 567.3 L727.9 568.2 L730.3 569.1 L732.6 570.0 L734.9 570.9 L737.3 571.8 L739.6 572.6 L742.0 573.5 L744.3 574.3 L746.7 575.2 L749.0 576.0 L751.4 576.8 L753.8 577.6 L756.1 578.4 L758.5 579.2 L760.9 580.0 L763.2 580.8 L765.6 581.6 L768.0 582.4 L770.4 583.1 L772.8 583.9 L775.2 584.6 L777.5 585.4 L779.9 586.1 L782.3 586.8 L784.7 587.6 L787.1 588.3 L789.5 589.0 L791.9 589.7 L794.3 590.4 L796.7 591.1 L799.1 591.7 L801.5 592.4 L804.0 593.1 L806.4 593.7 L808.8 594.4 L811.2 595.0 L813.6 595.6 L816.1 596.3 L818.5 596.9 L820.9 597.5 L823.3 598.1 L825.8 598.7 L828.2 599.3 L830.6 599.9 L833.1 600.4 L835.5 601.0 L837.9 601.6 L840.4 602.1 L842.8 602.7 L845.3 603.2 L847.7 603.7 L850.2 604.3 L852.6 604.8 L855.0 605.3 L857.5 605.8 L859.9 606.3 L862.4 606.8 L864.9 607.3 L867.3 607.7 L869.8 608.2 L872.2 608.6 L874.7 609.1 L877.1 609.5 L879.6 610.0 L882.1 610.4 L884.5 610.8 L887.0 611.3 L889.5 611.7 L891.9 612.1 L894.4 612.5 L896.9 612.8 L899.3 613.2 L901.8 613.6 L904.3 614.0 L906.8 614.3 L909.2 614.7 L911.7 615.0 L914.2 615.4 L916.7 615.7 L919.1 616.0 L921.6 616.3 L924.1 616.6 L926.6 616.9 L929.1 617.2 L931.5 617.5 L934.0 617.8 L936.5 618.1 L939.0 618.3 L941.5 618.6 L943.0 618.8" fill="none" stroke="#097d0c" stroke-width="3.8" stroke-linejoin="round" stroke-linecap="butt"/>
<path d="M135.8 172.0 L135.9 174.5 L135.9 177.0 L136.0 179.5 L136.1 182.1 L136.1 184.6 L136.2 187.1 L136.3 189.6 L136.4 192.1 L136.5 194.6 L136.6 197.1 L136.7 199.6 L136.8 202.1 L136.9 204.6 L137.1 207.1 L137.2 209.6 L137.3 212.1 L137.5 214.6 L137.6 217.1 L137.7 219.6 L137.9 222.0 L138.0 224.5 L138.2 227.0 L138.4 229.5 L138.5 232.0 L138.7 234.5 L138.9 237.0 L139.0 239.5 L139.2 241.9 L139.4 244.4 L139.6 246.9 L139.8 249.4 L139.9 251.9 L140.1 254.4 L140.3 256.8 L140.5 259.3 L140.7 261.8 L140.9 264.3 L141.1 266.8 L141.3 269.3 L141.5 271.7 L141.7 274.2 L141.9 276.7 L142.1 279.2 L142.3 281.7 L142.5 284.2 L142.7 286.7 L142.9 289.1 L143.1 291.6 L143.3 294.1 L143.5 296.6 L143.8 299.1 L144.0 301.6 L144.2 304.1 L144.4 306.6 L144.6 309.0 L144.8 311.5 L145.0 314.0 L145.2 316.5 L145.4 319.0 L145.6 321.5 L145.8 324.0 L146.0 326.5 L146.2 329.0 L146.4 331.5 L146.6 334.0 L146.8 336.5 L146.9 339.0 L147.1 341.5 L147.3 344.0 L147.5 346.6 L147.7 349.1 L147.9 351.6 L148.1 354.1 L148.3 356.6 L148.5 359.1 L148.7 361.6 L148.9 364.1 L149.1 366.6 L149.3 369.1 L149.5 371.6 L149.7 374.2 L149.9 376.7 L150.1 379.2 L150.3 381.7 L150.5 384.2 L150.8 386.7 L151.0 389.2 L151.2 391.7 L151.5 394.2 L151.7 396.7 L152.0 399.1 L152.2 401.6 L152.5 404.1 L152.8 406.6 L153.1 409.1 L153.4 411.6 L153.7 414.0 L154.0 416.5 L154.3 419.0 L154.6 421.4 L154.9 423.9 L155.3 426.4 L155.6 428.8 L156.0 431.3 L156.4 433.7 L156.7 436.2 L157.1 438.6 L157.5 441.0 L158.0 443.5 L158.4 445.9 L158.8 448.3 L159.3 450.7 L159.8 453.1 L160.2 455.5 L160.7 457.9 L161.2 460.3 L161.8 462.7 L162.3 465.1 L162.9 467.5 L163.5 469.9 L164.1 472.3 L164.8 474.7 L165.5 477.1 L166.2 479.5 L167.0 481.9 L167.8 484.3 L168.7 486.8 L169.6 489.2 L170.6 491.7 L171.7 494.1 L172.9 496.5 L174.2 498.8 L175.6 500.8 L177.3 502.7 L179.1 504.2 L181.1 505.4 L183.4 506.3 L185.8 506.5 L188.1 506.1 L190.4 505.0 L192.5 503.6 L194.3 501.9 L195.9 500.1 L197.4 498.1 L198.7 496.0 L199.8 493.7 L200.9 491.4 L201.8 489.0 L202.7 486.6 L203.6 484.2 L204.6 481.8 L205.5 479.4 L206.5 477.0 L207.5 474.7 L208.5 472.4 L209.6 470.2 L210.7 468.0 L211.8 465.8 L213.0 463.6 L214.2 461.4 L215.4 459.3 L216.6 457.2 L217.9 455.1 L219.1 452.9 L220.4 450.9 L221.7 448.8 L223.0 446.7 L224.3 444.6 L225.6 442.5 L226.9 440.4 L228.2 438.3 L229.5 436.1 L230.8 434.0 L232.1 431.9 L233.4 429.8 L234.7 427.6 L236.0 425.5 L237.3 423.3 L238.6 421.2 L239.9 419.0 L241.2 416.9 L242.5 414.7 L243.8 412.5 L245.1 410.4 L246.4 408.2 L247.7 406.1 L249.0 403.9 L250.3 401.7 L251.5 399.6 L252.8 397.4 L254.1 395.2 L255.4 393.1 L256.6 390.9 L257.9 388.8 L259.2 386.6 L260.4 384.4 L261.7 382.3 L262.9 380.1 L264.2 378.0 L265.4 375.8 L266.6 373.6 L267.9 371.5 L269.1 369.3 L270.3 367.1 L271.6 365.0 L272.8 362.8 L274.0 360.6 L275.2 358.5 L276.4 356.3 L277.7 354.1 L278.9 352.0 L280.1 349.8 L281.3 347.6 L282.5 345.4 L283.7 343.2 L284.8 341.0 L286.0 338.9 L287.2 336.7 L288.4 334.5 L289.6 332.3 L290.7 330.1 L291.9 327.9 L293.1 325.6 L294.2 323.4 L295.4 321.2 L296.5 319.0 L297.7 316.8 L298.8 314.5 L300.0 312.3 L301.1 310.1 L302.3 307.8 L303.4 305.6 L304.6 303.4 L305.7 301.1 L306.9 298.9 L308.1 296.7 L309.2 294.5 L310.4 292.3 L311.6 290.1 L312.8 287.9 L314.0 285.7 L315.3 283.5 L316.5 281.3 L317.7 279.1 L319.0 277.0 L320.3 274.8 L321.6 272.7 L322.9 270.6 L324.2 268.4 L325.6 266.4 L326.9 264.3 L328.3 262.2 L329.8 260.2 L331.2 258.1 L332.6 256.1 L334.1 254.1 L335.6 252.1 L337.2 250.2 L338.7 248.2 L340.3 246.3 L341.9 244.4 L343.6 242.6 L345.3 240.7 L347.0 238.9 L348.8 237.1 L350.7 235.5 L352.7 234.0 L354.8 232.8 L357.1 231.7 L359.6 231.0 L362.2 230.4 L364.7 230.2 L367.3 230.1 L369.9 230.4 L372.3 230.9 L374.7 231.5 L377.0 232.4 L379.3 233.5 L381.5 234.6 L383.7 235.9 L385.8 237.4 L387.8 238.8 L389.8 240.4 L391.8 242.0 L393.6 243.6 L395.5 245.3 L397.3 247.0 L399.0 248.8 L400.7 250.6 L402.4 252.4 L404.0 254.2 L405.6 256.1 L407.2 258.1 L408.7 260.0 L410.2 262.0 L411.6 264.0 L413.1 266.0 L414.5 268.1 L415.9 270.2 L417.2 272.3 L418.5 274.4 L419.9 276.5 L421.2 278.6 L422.4 280.8 L423.7 283.0 L425.0 285.2 L426.2 287.3 L427.4 289.5 L428.7 291.7 L429.9 294.0 L431.1 296.2 L432.3 298.4 L433.5 300.6 L434.8 302.8 L436.0 305.0 L437.2 307.2 L438.5 309.4 L439.7 311.6 L441.0 313.8 L442.2 315.9 L443.5 318.1 L444.8 320.2 L446.2 322.4 L447.5 324.5 L448.8 326.6 L450.2 328.6 L451.6 330.7 L453.0 332.8 L454.4 334.8 L455.8 336.8 L457.3 338.9 L458.7 340.9 L460.2 342.9 L461.6 344.9 L463.1 346.9 L464.6 348.9 L466.1 350.9 L467.5 352.9 L469.0 354.9 L470.5 356.9 L472.0 358.9 L473.5 360.9 L475.0 362.9 L476.5 364.9 L478.0 366.9 L479.5 368.9 L480.9 370.9 L482.4 372.9 L483.9 374.9 L485.4 377.0 L486.8 379.0 L488.3 381.1 L489.7 383.1 L491.2 385.2 L492.6 387.2 L494.1 389.3 L495.6 391.3 L497.1 393.3 L498.6 395.3 L500.1 397.3 L501.7 399.3 L503.2 401.2 L504.8 403.1 L506.5 405.0 L508.1 406.8 L509.8 408.7 L511.5 410.5 L513.3 412.3 L515.1 414.0 L516.8 415.8 L518.6 417.5 L520.4 419.2 L522.3 420.9 L524.1 422.6 L526.0 424.2 L527.8 425.9 L529.7 427.6 L531.5 429.2 L533.4 430.9 L535.3 432.6 L537.2 434.2 L539.0 435.9 L540.9 437.5 L542.8 439.2 L544.7 440.8 L546.6 442.4 L548.5 444.1 L550.4 445.7 L552.3 447.3 L554.2 449.0 L556.1 450.6 L558.0 452.2 L560.0 453.8 L561.9 455.4 L563.8 457.0 L565.7 458.6 L567.7 460.2 L569.6 461.7 L571.6 463.3 L573.5 464.9 L575.5 466.4 L577.4 468.0 L579.4 469.5 L581.4 471.1 L583.4 472.6 L585.3 474.1 L587.3 475.6 L589.3 477.1 L591.3 478.6 L593.3 480.1 L595.3 481.6 L597.3 483.1 L599.3 484.6 L601.4 486.0 L603.4 487.5 L605.4 488.9 L607.5 490.4 L609.5 491.8 L611.6 493.2 L613.6 494.6 L615.7 496.0 L617.7 497.4 L619.8 498.8 L621.9 500.2 L623.9 501.6 L626.0 503.0 L628.1 504.3 L630.2 505.7 L632.3 507.0 L634.4 508.3 L636.5 509.7 L638.6 511.0 L640.8 512.3 L642.9 513.6 L645.0 514.9 L647.1 516.2 L649.3 517.5 L651.4 518.8 L653.6 520.0 L655.7 521.3 L657.9 522.5 L660.1 523.8 L662.2 525.0 L664.4 526.2 L666.6 527.4 L668.8 528.6 L671.0 529.8 L673.2 531.0 L675.4 532.2 L677.6 533.4 L679.8 534.6 L682.0 535.7 L684.2 536.9 L686.5 538.0 L688.7 539.1 L690.9 540.3 L693.2 541.4 L695.4 542.5 L697.6 543.6 L699.9 544.7 L702.2 545.8 L704.4 546.9 L706.7 547.9 L709.0 549.0 L711.2 550.0 L713.5 551.1 L715.8 552.1 L718.1 553.2 L720.4 554.2 L722.6 555.2 L724.9 556.2 L727.2 557.2 L729.5 558.2 L731.8 559.2 L734.2 560.2 L736.5 561.1 L738.8 562.1 L741.1 563.0 L743.4 564.0 L745.7 564.9 L748.1 565.8 L750.4 566.8 L752.7 567.7 L755.1 568.6 L757.4 569.5 L759.7 570.4 L762.1 571.3 L764.4 572.1 L766.8 573.0 L769.1 573.8 L771.5 574.7 L773.8 575.5 L776.2 576.4 L778.5 577.2 L780.9 578.0 L783.3 578.8 L785.6 579.6 L788.0 580.4 L790.4 581.2 L792.7 582.0 L795.1 582.8 L797.5 583.5 L799.9 584.3 L802.2 585.0 L804.6 585.8 L807.0 586.5 L809.4 587.2 L811.8 588.0 L814.2 588.7 L816.6 589.4 L819.0 590.1 L821.4 590.8 L823.8 591.4 L826.2 592.1 L828.6 592.8 L831.0 593.4 L833.4 594.1 L835.8 594.7 L838.2 595.3 L840.6 595.9 L843.1 596.6 L845.5 597.2 L847.9 597.8 L850.3 598.3 L852.8 598.9 L855.2 599.5 L857.6 600.1 L860.1 600.6 L862.5 601.2 L864.9 601.7 L867.4 602.2 L869.8 602.7 L872.2 603.3 L874.7 603.8 L877.1 604.3 L879.6 604.7 L882.0 605.2 L884.5 605.7 L887.0 606.2 L889.4 606.6 L891.9 607.1 L894.3 607.5 L896.8 607.9 L899.3 608.4 L901.7 608.8 L904.2 609.2 L906.7 609.6 L909.1 610.0 L911.6 610.3 L914.1 610.7 L916.6 611.1 L919.0 611.4 L921.5 611.8 L924.0 612.1 L926.5 612.4 L929.0 612.7 L931.5 613.1 L934.0 613.4 L936.4 613.6 L938.9 613.9 L941.4 614.2 L943.0 614.4" fill="none" stroke="#ff10ff" stroke-width="3.8" stroke-linejoin="round" stroke-linecap="butt"/>
<rect x="676.6" y="99.8" width="144.6" height="189.5" fill="#fbfbfb" stroke="#606060" stroke-width="2.2"/>
<line x1="690" y1="125.2" x2="758.6" y2="125.2" stroke="#222222" stroke-width="4.2"/>
<text class="lg" x="763.2" y="135.0">1h</text>
<line x1="690" y1="162.0" x2="758.6" y2="162.0" stroke="#ff2020" stroke-width="4.2"/>
<text class="lg" x="763.2" y="171.8">4h</text>
<line x1="690" y1="198.6" x2="758.6" y2="198.6" stroke="#3030ff" stroke-width="4.2"/>
<text class="lg" x="763.2" y="208.4">8h</text>
<line x1="690" y1="234.8" x2="758.6" y2="234.8" stroke="#28882c" stroke-width="4.2"/>
<text class="lg" x="763.2" y="244.6">12h</text>
<line x1="690" y1="271.6" x2="758.6" y2="271.6" stroke="#ff1cff" stroke-width="4.2"/>
<text class="lg" x="763.2" y="281.4">24h</text>
<text class="tk" x="108.2" y="654.4" text-anchor="end">0.0</text>
<text class="tk" x="108.2" y="443.3" text-anchor="end">0.2</text>
<text class="tk" x="108.2" y="232.2" text-anchor="end">0.4</text>
<text class="tk" x="108.2" y="21.1" text-anchor="end">0.6</text>
<text class="tk" x="134.0" y="693.6" text-anchor="middle">300</text>
<text class="tk" x="317.8" y="693.6" text-anchor="middle">400</text>
<text class="tk" x="501.5" y="693.6" text-anchor="middle">500</text>
<text class="tk" x="685.2" y="693.6" text-anchor="middle">600</text>
<text class="tk" x="869.0" y="693.6" text-anchor="middle">700</text>
<text class="ax" x="547.4" y="745.6" text-anchor="middle">Wavelength (nm)</text>
<text class="ay" transform="translate(31.5 316.6) rotate(-90)" text-anchor="middle">Aborsbance(a.u)</text>
</g>
</svg>
</body></html>
